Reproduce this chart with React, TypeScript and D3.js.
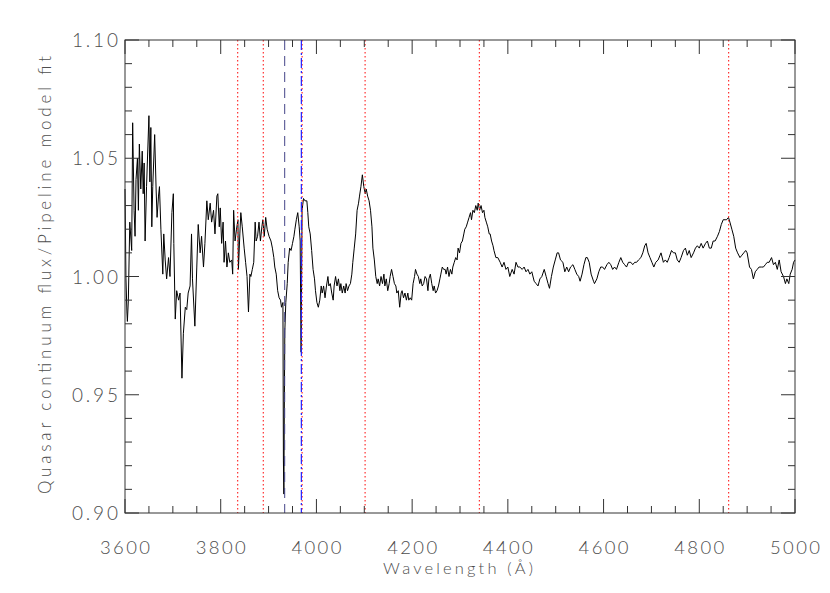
import React from "react";
import * as d3 from "d3";

const WAVELENGTH = [
  3600, 3602, 3604, 3605, 3607, 3610, 3614, 3616, 3619, 3621, 3623, 3626, 3628, 3630, 3633, 3636, 3638, 3640, 3642, 3645,
  3650, 3652, 3654, 3656, 3658, 3662, 3665, 3667, 3670, 3672, 3675, 3679, 3681, 3684, 3687, 3691, 3694, 3698, 3701, 3702,
  3705, 3708, 3712, 3715, 3719, 3722, 3726, 3729, 3732, 3736, 3739, 3741, 3746, 3750, 3753, 3757, 3760, 3764, 3767, 3771,
  3774, 3778, 3781, 3785, 3788, 3792, 3794, 3797, 3799, 3802, 3805, 3807, 3810, 3813, 3816, 3819, 3823, 3825, 3827, 3830,
  3833, 3836, 3837, 3840, 3842, 3845, 3849, 3852, 3855, 3858, 3861, 3863, 3866, 3869, 3872, 3874, 3877, 3880, 3883, 3886,
  3888, 3891, 3894, 3897, 3901, 3905, 3908, 3911, 3913, 3916, 3919, 3922, 3925, 3927, 3930, 3931, 3932, 3933, 3934, 3936,
  3939, 3941, 3944, 3947, 3950, 3953, 3955, 3958, 3961, 3964, 3966, 3968, 3970, 3973, 3976, 3980, 3982, 3984, 3987, 3990,
  3993, 3996, 3998, 4001, 4004, 4007, 4010, 4012, 4015, 4018, 4021, 4024, 4026, 4029, 4032, 4035, 4037, 4040, 4043, 4046,
  4049, 4051, 4054, 4057, 4060, 4062, 4065, 4068, 4071, 4074, 4076, 4079, 4082, 4085, 4088, 4090, 4093, 4096, 4099, 4102,
  4104, 4107, 4110, 4113, 4116, 4118, 4121, 4124, 4127, 4129, 4132, 4135, 4138, 4141, 4143, 4146, 4149, 4152, 4154, 4157,
  4160, 4163, 4166, 4168, 4171, 4174, 4177, 4179, 4182, 4185, 4188, 4191, 4193, 4196, 4199, 4202, 4205, 4207, 4210, 4213,
  4216, 4218, 4221, 4224, 4227, 4230, 4233, 4235, 4238, 4241, 4244, 4246, 4249, 4252, 4255, 4258, 4260, 4263, 4266, 4269,
  4271, 4274, 4277, 4280, 4283, 4285, 4288, 4291, 4294, 4296, 4299, 4302, 4305, 4308, 4310, 4313, 4316, 4319, 4322, 4324,
  4327, 4330, 4333, 4336, 4338, 4341, 4344, 4347, 4350, 4352, 4355, 4358, 4361, 4363, 4366, 4369, 4371, 4375, 4379, 4384,
  4388, 4392, 4396, 4400, 4404, 4409, 4413, 4417, 4421, 4425, 4430, 4434, 4438, 4442, 4446, 4450, 4455, 4459, 4463, 4467,
  4471, 4476, 4480, 4484, 4487, 4491, 4495, 4499, 4503, 4506, 4510, 4515, 4519, 4523, 4527, 4531, 4536, 4540, 4544, 4548,
  4551, 4555, 4559, 4563, 4566, 4570, 4574, 4579, 4581, 4586, 4590, 4594, 4598, 4602, 4607, 4611, 4615, 4619, 4623, 4627,
  4632, 4636, 4640, 4644, 4648, 4652, 4657, 4661, 4665, 4669, 4673, 4678, 4682, 4686, 4689, 4693, 4697, 4701, 4705, 4709,
  4714, 4718, 4720, 4725, 4729, 4733, 4737, 4742, 4746, 4750, 4754, 4758, 4762, 4767, 4771, 4775, 4779, 4783, 4788, 4792,
  4796, 4800, 4804, 4808, 4813, 4817, 4821, 4825, 4829, 4833, 4838, 4842, 4846, 4850, 4854, 4857, 4861, 4864, 4868, 4872,
  4876, 4880, 4885, 4889, 4893, 4897, 4900, 4905, 4909, 4913, 4917, 4921, 4925, 4930, 4934, 4938, 4942, 4946, 4951, 4955,
  4959, 4963, 4967, 4971, 4976, 4980, 4983, 4987, 4990, 4994, 4997, 5000,
];

const FLUX = [
  1.037, 0.999, 0.985, 0.981, 0.990, 1.023, 1.011, 1.065, 1.028, 1.017, 1.041, 1.050, 1.028, 1.056, 1.037, 1.053, 1.035, 1.048, 1.015, 1.038,
  1.068, 1.040, 1.063, 1.021, 1.038, 1.060, 1.037, 1.025, 1.034, 1.038, 1.020, 1.001, 1.018, 1.007, 0.999, 1.008, 1.000, 1.027, 1.035, 1.014,
  0.982, 0.994, 0.990, 0.993, 0.957, 0.976, 0.987, 0.986, 0.993, 0.996, 1.018, 0.999, 0.979, 1.004, 1.022, 1.010, 1.017, 1.004, 1.014, 1.032,
  1.024, 1.031, 1.023, 1.028, 1.018, 1.034, 1.035, 1.021, 1.029, 1.014, 1.023, 1.006, 1.015, 1.004, 1.010, 1.006, 1.007, 1.001, 1.028, 1.015,
  1.020, 1.024, 1.003, 1.018, 1.027, 1.021, 1.012, 1.006, 1.000, 0.985, 1.001, 1.000, 1.003, 1.006, 1.023, 1.015, 1.017, 1.023, 1.015, 1.021,
  1.024, 1.017, 1.025, 1.020, 1.017, 1.015, 1.012, 1.008, 1.004, 1.001, 0.994, 0.991, 0.990, 0.987, 0.989, 0.922, 0.908, 0.948, 0.977, 0.989,
  0.997, 1.006, 1.012, 1.011, 1.014, 1.017, 1.020, 1.024, 1.027, 1.021, 1.015, 0.968, 1.028, 1.033, 1.032, 1.032, 1.027, 1.021, 1.018, 1.011,
  1.003, 0.999, 0.994, 0.989, 0.987, 0.990, 0.996, 0.993, 0.996, 0.991, 0.996, 1.000, 0.996, 0.997, 0.993, 0.990, 0.996, 1.000, 0.996, 0.999,
  0.994, 0.997, 0.993, 0.996, 0.993, 0.997, 0.994, 0.996, 0.997, 1.001, 1.006, 1.012, 1.018, 1.028, 1.031, 1.034, 1.038, 1.043, 1.038, 1.035,
  1.037, 1.034, 1.032, 1.028, 1.021, 1.012, 1.007, 1.000, 0.997, 0.999, 0.996, 1.000, 0.997, 1.001, 0.996, 0.999, 0.994, 0.997, 1.000, 1.003,
  1.000, 0.997, 0.996, 0.993, 0.994, 0.987, 0.993, 0.994, 0.991, 0.993, 0.990, 0.993, 0.990, 0.991, 0.990, 0.997, 1.000, 1.003, 1.001, 1.000,
  0.997, 0.999, 0.996, 0.997, 1.000, 0.999, 0.994, 0.999, 1.001, 0.997, 0.994, 0.996, 0.993, 0.994, 0.996, 0.999, 1.001, 1.004, 1.003, 1.003,
  1.001, 1.004, 1.000, 1.003, 1.001, 1.004, 1.006, 1.008, 1.007, 1.012, 1.010, 1.014, 1.015, 1.018, 1.020, 1.021, 1.023, 1.025, 1.027, 1.024,
  1.028, 1.027, 1.030, 1.028, 1.031, 1.028, 1.030, 1.027, 1.028, 1.025, 1.023, 1.021, 1.018, 1.018, 1.015, 1.013, 1.011, 1.008, 1.008, 1.006,
  1.004, 1.006, 1.003, 1.004, 1.000, 1.003, 1.001, 1.006, 1.004, 1.004, 1.003, 1.004, 1.002, 1.003, 1.001, 1.002, 0.998, 0.997, 0.996, 0.999,
  1.000, 1.003, 1.000, 0.997, 0.995, 1.000, 1.004, 1.007, 1.010, 1.010, 1.007, 1.006, 1.002, 1.004, 1.002, 1.004, 1.005, 1.003, 1.001, 1.000,
  0.998, 1.001, 1.005, 1.008, 1.008, 1.006, 1.001, 0.998, 0.997, 0.999, 1.002, 1.004, 1.004, 1.003, 1.005, 1.006, 1.005, 1.003, 1.004, 1.003,
  1.006, 1.008, 1.006, 1.005, 1.004, 1.006, 1.006, 1.005, 1.006, 1.006, 1.007, 1.008, 1.010, 1.013, 1.014, 1.010, 1.008, 1.006, 1.004, 1.006,
  1.007, 1.009, 1.010, 1.006, 1.007, 1.006, 1.008, 1.011, 1.010, 1.010, 1.007, 1.006, 1.008, 1.011, 1.012, 1.009, 1.011, 1.008, 1.010, 1.012,
  1.013, 1.012, 1.014, 1.012, 1.014, 1.015, 1.012, 1.012, 1.015, 1.015, 1.017, 1.019, 1.022, 1.024, 1.024, 1.024, 1.025, 1.023, 1.020, 1.017,
  1.012, 1.010, 1.008, 1.009, 1.010, 1.011, 1.010, 1.004, 1.003, 0.999, 1.002, 1.003, 1.004, 1.004, 1.004, 1.005, 1.006, 1.006, 1.008, 1.005,
  1.006, 1.003, 1.007, 1.002, 1.000, 0.997, 0.999, 0.997, 1.001, 1.003, 1.006, 1.007,
];

const X_MAJOR_TICKS = [3600, 3800, 4000, 4200, 4400, 4600, 4800, 5000];
const Y_MAJOR_TICKS = [0.9, 0.95, 1.0, 1.05, 1.1];
const X_MINOR_STEP = 50;
const Y_MINOR_STEP = 0.01;
const BALMER_LINES = [3835.4, 3889.0, 3970.1, 4101.7, 4340.5, 4861.3];
const CA_K = 3933.7;
const CA_H = 3968.5;

const W = 830;
const H = 593;
const LEFT = 125;
const RIGHT = 795;
const TOP = 40;
const BOTTOM = 513;

const TEXT_COLOR = "#4d4d4d";
const AXIS_COLOR = "#333";
const FONT = "Lato, 'DejaVu Sans', sans-serif";

export default function App() {
  const x = d3.scaleLinear().domain([3600, 5000]).range([LEFT, RIGHT]);
  const y = d3.scaleLinear().domain([0.9, 1.1]).range([BOTTOM, TOP]);

  const pts: [number, number][] = WAVELENGTH.map((w, i) => [w, FLUX[i]]);
  const line = d3
    .line<[number, number]>()
    .x((d) => x(d[0]))
    .y((d) => y(d[1]));

  const xMinor = d3.range(3600, 5000 + 1, X_MINOR_STEP).filter((v) => !X_MAJOR_TICKS.includes(v));
  const yMinor = d3
    .range(0, 21)
    .map((i) => +(0.9 + i * Y_MINOR_STEP).toFixed(2))
    .filter((v) => !Y_MAJOR_TICKS.some((m) => Math.abs(m - v) < 1e-6));

  const MAJ = 14;
  const MIN = 7;

  return (
    <svg width={W} height={H} style={{ position: "absolute", left: 0, top: 0, background: "#fff" }}>
      <rect x={0} y={0} width={W} height={H} fill="#fff" />
      <path d={line(pts) || ""} fill="none" stroke="#000" strokeWidth={1} strokeLinejoin="round" />

      {BALMER_LINES.map((w) => (
        <line
          key={"b" + w}
          x1={x(w)}
          x2={x(w)}
          y1={TOP}
          y2={BOTTOM}
          stroke="#ff3030"
          strokeWidth={1.2}
          strokeDasharray="1.5,2.5"
        />
      ))}
      <line x1={x(CA_K)} x2={x(CA_K)} y1={TOP} y2={BOTTOM} stroke="#444488" strokeWidth={1} strokeDasharray="10,6" />
      <line x1={x(CA_H)} x2={x(CA_H)} y1={TOP} y2={BOTTOM} stroke="#2222ff" strokeWidth={1.2} strokeDasharray="10,3,2,3" />

      {/* frame */}
      <rect x={LEFT} y={TOP} width={RIGHT - LEFT} height={BOTTOM - TOP} fill="none" stroke={AXIS_COLOR} strokeWidth={1} />

      {/* x ticks */}
      {X_MAJOR_TICKS.map((v) => (
        <g key={"xm" + v}>
          <line x1={x(v)} x2={x(v)} y1={BOTTOM} y2={BOTTOM - MAJ} stroke={AXIS_COLOR} />
          <line x1={x(v)} x2={x(v)} y1={TOP} y2={TOP + MAJ} stroke={AXIS_COLOR} />
          <text
            x={x(v)}
            y={554}
            textAnchor="middle"
            fontFamily={FONT}
            fontWeight={300}
            fontSize={18.5}
            fill={TEXT_COLOR}
            textLength={50}
            lengthAdjust="spacing"
          >
            {v}
          </text>
        </g>
      ))}
      {xMinor.map((v) => (
        <g key={"xn" + v}>
          <line x1={x(v)} x2={x(v)} y1={BOTTOM} y2={BOTTOM - MIN} stroke={AXIS_COLOR} />
          <line x1={x(v)} x2={x(v)} y1={TOP} y2={TOP + MIN} stroke={AXIS_COLOR} />
        </g>
      ))}

      {/* y ticks */}
      {Y_MAJOR_TICKS.map((v) => (
        <g key={"ym" + v}>
          <line x1={LEFT} x2={LEFT + MAJ} y1={y(v)} y2={y(v)} stroke={AXIS_COLOR} />
          <line x1={RIGHT} x2={RIGHT - MAJ} y1={y(v)} y2={y(v)} stroke={AXIS_COLOR} />
          <text
            x={118}
            y={y(v) + 7}
            textAnchor="end"
            fontFamily={FONT}
            fontWeight={300}
            fontSize={19}
            fill={TEXT_COLOR}
            textLength={46}
            lengthAdjust="spacing"
          >
            {d3.format(".2f")(v)}
          </text>
        </g>
      ))}
      {yMinor.map((v) => (
        <g key={"yn" + v}>
          <line x1={LEFT} x2={LEFT + MIN} y1={y(v)} y2={y(v)} stroke={AXIS_COLOR} />
          <line x1={RIGHT} x2={RIGHT - MIN} y1={y(v)} y2={y(v)} stroke={AXIS_COLOR} />
        </g>
      ))}

      <text
        x={458}
        y={574}
        textAnchor="middle"
        fontFamily={FONT}
        fontWeight={300}
        fontSize={16.5}
        fill={TEXT_COLOR}
        textLength={150}
        lengthAdjust="spacing"
      >
        Wavelength (Å)
      </text>
      <text
        transform={`translate(51, 275) rotate(-90)`}
        textAnchor="middle"
        fontFamily={FONT}
        fontWeight={300}
        fontSize={17}
        fill={TEXT_COLOR}
        textLength={438}
        lengthAdjust="spacing"
      >
        Quasar continuum flux/Pipeline model fit
      </text>
    </svg>
  );
}
